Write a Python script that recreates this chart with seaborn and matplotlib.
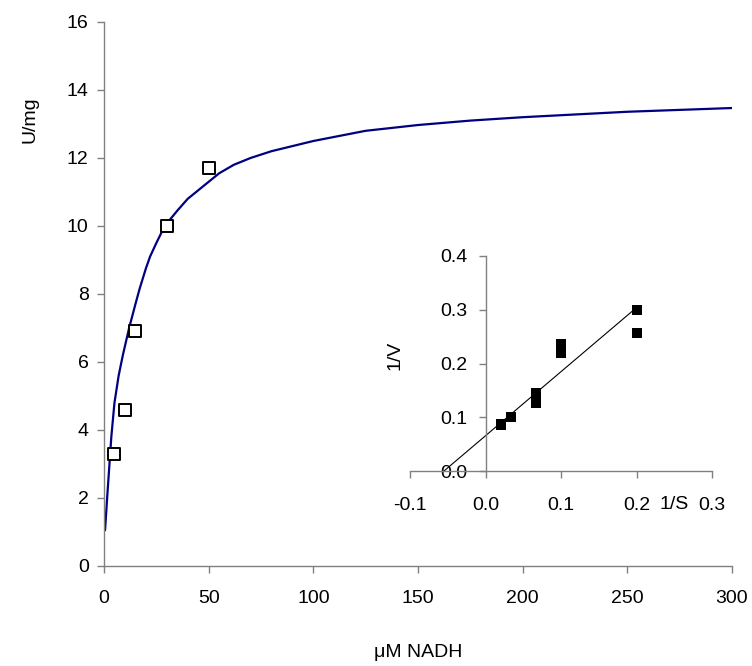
import numpy as np
import pandas as pd
import matplotlib
matplotlib.use("Agg")
import matplotlib.pyplot as plt
import seaborn as sns
from matplotlib.ticker import FormatStrFormatter, MultipleLocator

# measured activity vs NADH concentration
nadh_um = [5, 10, 15, 30, 50]
activity = [3.3, 4.6, 6.9, 10.0, 11.7]

# fitted saturation curve
curve_x = [0.5, 1.5, 2.5, 3.5, 5, 7, 9, 12, 15, 17, 20, 22, 25, 29, 35, 40, 45, 50, 55,
           62, 70, 75, 80, 90, 100, 125, 150, 175, 200, 250, 300]
curve_y = [1.05, 2.0, 2.9, 3.8, 4.8, 5.6, 6.2, 7.0, 7.7, 8.15, 8.75, 9.1, 9.5, 10.0, 10.45,
           10.8, 11.05, 11.3, 11.55, 11.8, 12.0, 12.1, 12.2, 12.35, 12.5, 12.8, 12.97, 13.1,
           13.2, 13.36, 13.47]

# double reciprocal inset
inv_s = [0.02, 0.02, 0.0333, 0.0667, 0.0667, 0.1, 0.1, 0.2, 0.2]
inv_v = [0.0855, 0.088, 0.1, 0.145, 0.126, 0.236, 0.219, 0.30, 0.256]
fit_x = [-0.055, 0.2]
fit_y = [0.0, 0.304]

sns.set_style("white")
plt.rcParams['font.family'] = ['Liberation Sans', 'DejaVu Sans']
plt.rcParams['text.color'] = 'black'
plt.rcParams['axes.labelcolor'] = 'black'

fig = plt.figure(figsize=(7.52, 6.66), dpi=100)
ax = fig.add_axes([104/752, 1 - 566/666, 628/752, 544/666])

curve_df = pd.DataFrame({'x': curve_x, 'y': curve_y})
sns.lineplot(data=curve_df, x='x', y='y', ax=ax, color='#000080', linewidth=1.6)
pts_df = pd.DataFrame({'x': nadh_um, 'y': activity})
sns.scatterplot(data=pts_df, x='x', y='y', ax=ax, marker='s', s=85,
                facecolor='white', edgecolor='black', linewidth=1.4, zorder=3)

ax.set_xlim(0, 300)
ax.set_ylim(0, 16)
ax.xaxis.set_major_locator(MultipleLocator(50))
ax.yaxis.set_major_locator(MultipleLocator(2))
for side in ['top', 'right']:
    ax.spines[side].set_visible(False)
for side in ['left', 'bottom']:
    ax.spines[side].set_color('#808080')
    ax.spines[side].set_linewidth(1.0)
ax.tick_params(axis='both', direction='out', length=5, width=1, color='#808080',
               labelcolor='black', labelsize=14, left=True, bottom=True)
ax.tick_params(axis='x', pad=12)
ax.tick_params(axis='y', pad=6)
ax.set_xlabel('μM NADH', fontsize=14, labelpad=27)
ax.set_ylabel('U/mg', fontsize=14)
ax.yaxis.set_label_coords(-0.105, 0.82)

# inset
ax_in = fig.add_axes([410/752, 1 - 471/666, 302/752, 215/666])
in_df = pd.DataFrame({'x': inv_s, 'y': inv_v})
sns.scatterplot(data=in_df, x='x', y='y', ax=ax_in, marker='s', s=52,
                color='black', edgecolor='black', linewidth=0, zorder=3)
ax_in.plot(fit_x, fit_y, color='black', linewidth=0.8)
ax_in.set_xlim(-0.1, 0.3)
ax_in.set_ylim(0, 0.4)
ax_in.patch.set_alpha(0)
ax_in.xaxis.set_major_locator(MultipleLocator(0.1))
ax_in.yaxis.set_major_locator(MultipleLocator(0.1))
ax_in.xaxis.set_major_formatter(FormatStrFormatter('%.1f'))
ax_in.yaxis.set_major_formatter(FormatStrFormatter('%.1f'))
for side in ['top', 'right']:
    ax_in.spines[side].set_visible(False)
ax_in.spines['left'].set_position(('data', 0))
for side in ['left', 'bottom']:
    ax_in.spines[side].set_color('#808080')
    ax_in.spines[side].set_linewidth(1.0)
ax_in.tick_params(axis='both', direction='out', length=5, width=1, color='#808080',
                  labelcolor='black', labelsize=14, left=True, bottom=True)
ax_in.tick_params(axis='x', pad=14)
ax_in.tick_params(axis='y', pad=8)
ax_in.set_xlabel('1/S', fontsize=14)
ax_in.xaxis.set_label_coords(0.875, -0.115)
ax_in.set_ylabel('1/V', fontsize=14)
ax_in.yaxis.set_label_coords(-0.02, 0.54)

fig.savefig('out.png', dpi=100)
